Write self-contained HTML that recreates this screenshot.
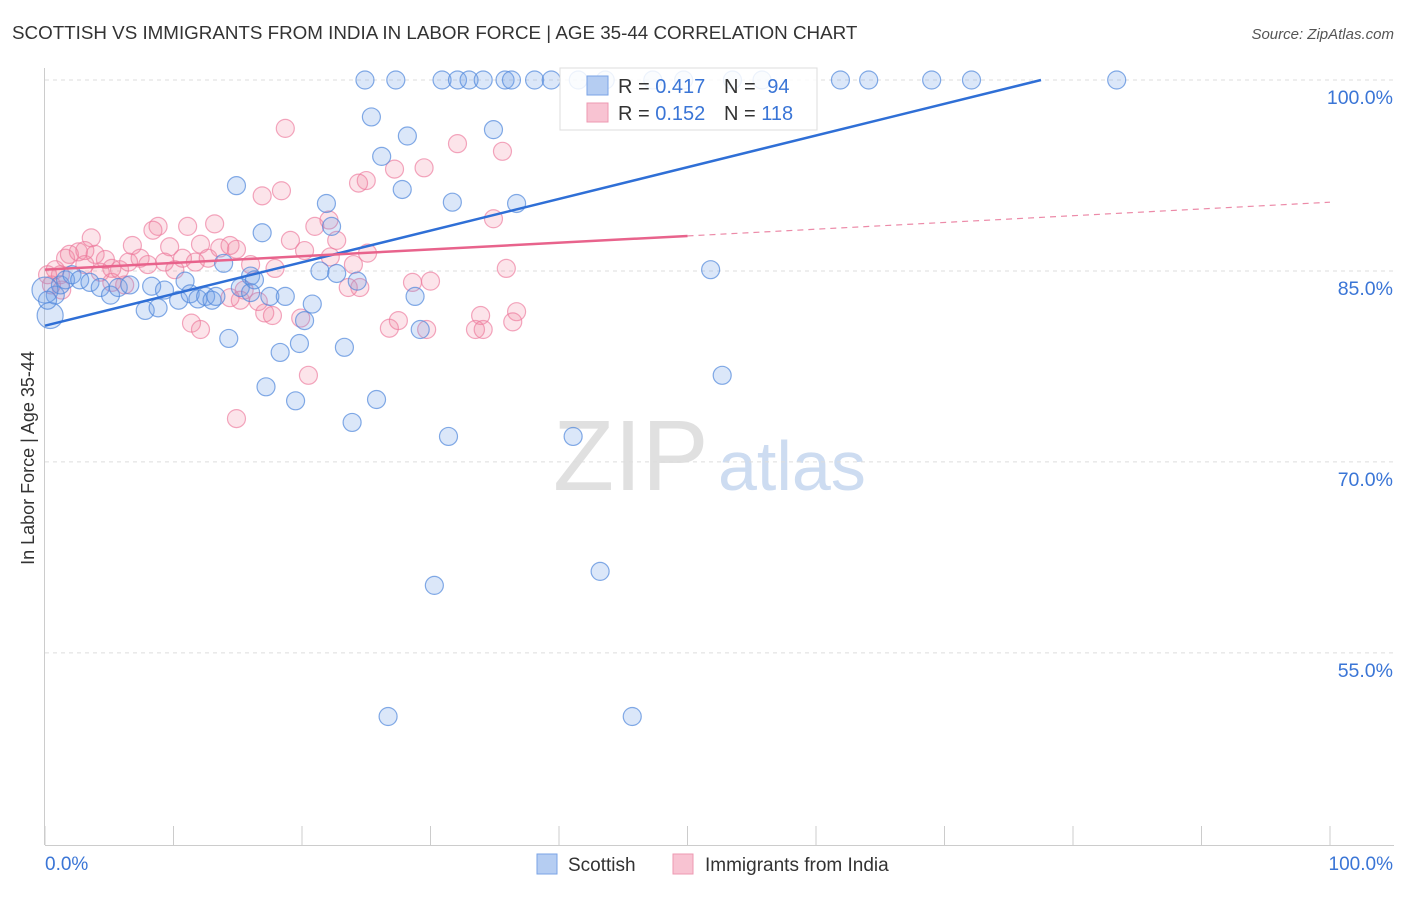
<!DOCTYPE html>
<html><head><meta charset="utf-8"><style>
body{margin:0;background:#fff;font-family:"Liberation Sans",sans-serif;}
svg text{font-family:"Liberation Sans",sans-serif;}
</style></head><body>
<svg id="chart" width="1406" height="892" viewBox="0 0 1406 892" xmlns="http://www.w3.org/2000/svg">
<text x="12" y="39" font-size="18.8" fill="#333">SCOTTISH VS IMMIGRANTS FROM INDIA IN LABOR FORCE | AGE 35-44 CORRELATION CHART</text>
<text x="1394" y="39" font-size="15" fill="#555" text-anchor="end" font-style="italic">Source: ZipAtlas.com</text>
<text x="553" y="490" font-size="100" fill="#e0e0e0" font-family="Liberation Serif" >ZIP</text>
<text x="718" y="490" font-size="70" fill="#cddcf1">atlas</text>
<text transform="translate(34,458) rotate(-90)" font-size="18" fill="#333" text-anchor="middle">In Labor Force | Age 35-44</text>
<g id="grid"></g><g id="pts"></g><g id="trend"></g>
<g>
<rect x="560" y="68" width="257" height="62" fill="#fff" fill-opacity="0.85" stroke="#ddd"/>
<rect x="587" y="76" width="21" height="19" fill="#b5cdf2" stroke="#7aa3e6"/>
<text x="618" y="93" font-size="20" fill="#333">R = <tspan fill="#3a75d6">0.417</tspan></text>
<text x="724" y="93" font-size="20" fill="#333">N = <tspan fill="#3a75d6" dx="6">94</tspan></text>
<rect x="587" y="103" width="21" height="19" fill="#f8c3d2" stroke="#ee98b2"/>
<text x="618" y="120" font-size="20" fill="#333">R = <tspan fill="#3a75d6">0.152</tspan></text>
<text x="724" y="120" font-size="20" fill="#333">N = <tspan fill="#3a75d6">118</tspan></text>
</g>
<g>
<rect x="537" y="854" width="20" height="20" fill="#b5cdf2" stroke="#7aa3e6"/>
<text x="568" y="871" font-size="19" fill="#333">Scottish</text>
<rect x="673" y="854" width="20" height="20" fill="#f8c3d2" stroke="#ee98b2"/>
<text x="705" y="871" font-size="19" fill="#333">Immigrants from India</text>
</g>
</svg>
<script>
const yTicks=[100,85,70,55];
const yTickLabels=["100.0%","85.0%","70.0%","55.0%"];
const xTicks=[0,10,20,30,40,50,60,70,80,90,100];
const blueX=[24.9,27.3,30.9,32.1,33.0,34.1,35.8,36.3,38.1,39.4,41.5,43.6,47.3,49.7,53.5,55.8,61.9,64.1,69.0,72.1,83.4,
25.4,28.2,34.9,26.2,14.9,27.8,31.7,36.7,21.9,22.3,16.9,21.4,22.7,24.3,16.0,13.9,51.8,28.8,20.8,20.2,14.3,19.8,23.3,18.3,29.2,17.2,19.5,25.8,23.9,31.4,41.1,52.7,30.3,43.2,26.7,45.7,
0.4,0.8,1.2,1.6,2.1,2.7,3.5,4.3,5.1,5.7,6.6,7.8,8.3,8.8,9.3,10.4,10.9,11.3,11.9,12.5,13.0,13.3,15.2,16.0,16.3,17.5,18.7,0.0,0.2];
const blueY=[100,100,100,100,100,100,100,100,100,100,100,100,100,100,100,100,100,100,100,100,100,
97.1,95.6,96.1,94.0,91.7,91.4,90.4,90.3,90.3,88.5,88.0,85.0,84.8,84.2,84.6,85.6,85.1,83.0,82.4,81.1,79.7,79.3,79.0,78.6,80.4,75.9,74.8,74.9,73.1,72.0,72.0,76.8,60.3,61.4,50.0,50.0,
81.5,83.1,83.9,84.3,84.7,84.3,84.1,83.7,83.1,83.7,83.9,81.9,83.8,82.1,83.5,82.7,84.2,83.2,82.8,83.0,82.7,83.0,83.7,83.3,84.3,83.0,83.0,83.5,82.7];
const pinkX=[18.7,32.1,35.6,27.2,29.5,25.0,24.4,18.4,16.9,34.9,22.1,21.0,11.1,8.8,13.2,8.4,3.6,6.8,9.7,12.1,14.9,19.1,20.2,22.7,25.1,22.2,24.0,17.9,16.0,35.9,28.6,30.0,33.9,36.7,26.8,27.5,29.7,33.5,34.1,36.4,19.9,11.4,12.1,17.1,17.7,20.5,14.9,24.5,23.6,15.5,15.2,16.6,14.4,
1.2,1.6,1.9,2.6,3.1,3.9,4.7,5.2,5.8,6.5,7.4,8.0,9.3,10.1,10.7,11.7,12.7,13.6,14.4,5.2,6.2,0.8,0.5,0.2,3.1,4.3,1.3];
const pinkY=[96.2,95.0,94.4,93.0,93.1,92.1,91.9,91.3,90.9,89.1,89.0,88.5,88.5,88.5,88.7,88.2,87.6,87.0,86.9,87.1,86.7,87.4,86.6,87.4,86.4,86.1,85.5,85.2,85.5,85.2,84.1,84.2,81.5,81.8,80.5,81.1,80.4,80.4,80.4,81.0,81.3,80.9,80.4,81.7,81.5,76.8,73.4,83.7,83.7,83.5,82.7,82.6,82.9,
84.7,86.0,86.3,86.5,86.6,86.3,85.9,85.2,85.1,85.7,86.0,85.5,85.7,85.1,86.0,85.7,86.0,86.8,87.0,84.1,83.9,85.1,83.9,84.7,85.5,84.9,83.5];
const blueTrend=[80.7,0.249];
const pinkTrend=[85.1,0.053];
const NS="http://www.w3.org/2000/svg";
const sx=v=>45+v*12.85;
const sy=v=>80+(100-v)*12.73;
function mk(tag,attrs,parent){const e=document.createElementNS(NS,tag);for(const k in attrs)e.setAttribute(k,attrs[k]);parent.appendChild(e);return e;}
const grid=document.getElementById('grid');
yTicks.forEach((t,i)=>{
 const l=mk('line',{x1:45,x2:1394,y1:sy(t),y2:sy(t),stroke:'#ddd','stroke-dasharray':'4,4'},grid);
 
 
 const tx=mk('text',{x:1393,y:sy(t)+24,'font-size':19.5,fill:'#3a75d6','text-anchor':'end'},grid);
 tx.textContent=yTickLabels[i];
 
 
});
const ax=mk('line',{x1:44.5,x2:44.5,y1:68,y2:845,stroke:'#ccc'},grid);


const bx=mk('line',{x1:45,x2:1394,y1:845.5,y2:845.5,stroke:'#ccc'},grid);


xTicks.forEach(t=>{
 const l=mk('line',{x1:sx(t),x2:sx(t),y1:826,y2:845,stroke:'#ccc'},grid);
 
 
});
const xl0=mk('text',{x:45,y:870,'font-size':19,fill:'#3a75d6'},grid);xl0.textContent='0.0%';


const xl1=mk('text',{x:1393,y:870,'font-size':19,fill:'#3a75d6','text-anchor':'end'},grid);xl1.textContent='100.0%';


const pts=document.getElementById('pts');
pinkX.forEach((x,i)=>{
 const c=mk('circle',{cx:sx(x),cy:sy(pinkY[i]),r:9,fill:'rgba(240,130,160,0.22)',stroke:'rgba(236,120,155,0.65)','stroke-width':1.2},pts);
 
 
});
blueX.forEach((x,i)=>{
 const big=(i===57||i===84);
 const c=mk('circle',{cx:sx(x),cy:sy(blueY[i]),r:big?13:9,fill:'rgba(110,160,230,0.25)',stroke:'rgba(80,135,220,0.7)','stroke-width':1.2},pts);
 
 
});
const tr=document.getElementById('trend');
const xe=(100-blueTrend[0])/blueTrend[1];
const bl=mk('line',{x1:sx(0),y1:sy(blueTrend[0]),x2:sx(xe),y2:sy(100),stroke:'#2f6fd6','stroke-width':2.5},tr);


const pl=mk('line',{x1:sx(0),y1:sy(pinkTrend[0]),x2:sx(50),y2:sy(pinkTrend[0]+50*pinkTrend[1]),stroke:'#e8638c','stroke-width':2.5},tr);


const pd=mk('line',{x1:sx(50),y1:sy(pinkTrend[0]+50*pinkTrend[1]),x2:sx(100),y2:sy(pinkTrend[0]+100*pinkTrend[1]),stroke:'#ec8aa8','stroke-width':1.2,'stroke-dasharray':'6,5'},tr);


</script>
</body></html>
